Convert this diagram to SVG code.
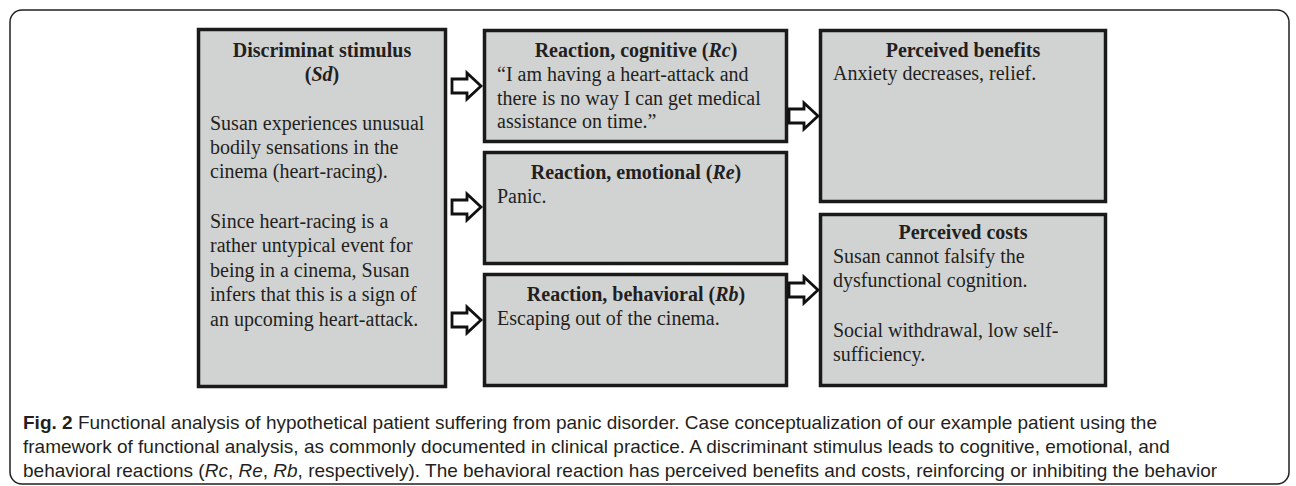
<svg xmlns="http://www.w3.org/2000/svg" width="1296" height="486" viewBox="0 0 1296 486">
<defs>
<style>
.frame{fill:#fff;stroke:#231f20;stroke-width:1.5}
.box{fill:#d1d3d3;stroke:#1a1a1a;stroke-width:3.5}
.t{font-family:"Liberation Serif","Times New Roman",serif;font-size:20px;fill:#231f20}
.b{font-weight:bold}
.c{text-anchor:middle}
.i{font-style:italic}
.cap{font-family:"Liberation Sans",Arial,sans-serif;font-size:19px;fill:#231f20}
.arrow{fill:#fff;stroke:#111;stroke-width:2.8;stroke-linejoin:miter}
</style>
<path id="arr" d="M0,-7 H15 V-13 L29,0 L15,13 V7 H0 Z"/>
</defs>
<rect class="frame" x="10" y="10" width="1279" height="474" rx="12" ry="12"/>

<g id="node-sd">
<rect class="box" x="198.5" y="29.5" width="247" height="357"/>
<text class="t b c" x="322" y="57">Discriminat stimulus</text>
<text class="t b c" x="322" y="81">(<tspan class="i">Sd</tspan>)</text>
<text class="t" x="210" y="130">Susan experiences unusual</text>
<text class="t" x="210" y="154">bodily sensations in the</text>
<text class="t" x="210" y="178">cinema (heart-racing).</text>
<text class="t" x="210" y="228">Since heart-racing is a</text>
<text class="t" x="210" y="252">rather untypical event for</text>
<text class="t" x="210" y="277">being in a cinema, Susan</text>
<text class="t" x="210" y="301">infers that this is a sign of</text>
<text class="t" x="210" y="326">an upcoming heart-attack.</text>
</g>

<g id="node-rc">
<rect class="box" x="484.5" y="30.5" width="302" height="111"/>
<text class="t b c" x="636" y="57">Reaction, cognitive (<tspan class="i">Rc</tspan>)</text>
<text class="t" x="497" y="81">“I am having a heart-attack and</text>
<text class="t" x="497" y="105">there is no way I can get medical</text>
<text class="t" x="497" y="128">assistance on time.”</text>
</g>

<g id="node-re">
<rect class="box" x="484.5" y="152.5" width="302" height="111"/>
<text class="t b c" x="636" y="179">Reaction, emotional (<tspan class="i">Re</tspan>)</text>
<text class="t" x="497" y="203">Panic.</text>
</g>

<g id="node-rb">
<rect class="box" x="484.5" y="274.5" width="302" height="111"/>
<text class="t b c" x="636" y="301">Reaction, behavioral (<tspan class="i">Rb</tspan>)</text>
<text class="t" x="497" y="325">Escaping out of the cinema.</text>
</g>

<g id="node-benefits">
<rect class="box" x="820.5" y="30.5" width="285" height="171"/>
<text class="t b c" x="963" y="57">Perceived benefits</text>
<text class="t" x="833" y="80">Anxiety decreases, relief.</text>
</g>

<g id="node-costs">
<rect class="box" x="820.5" y="214.5" width="285" height="171"/>
<text class="t b c" x="963" y="239">Perceived costs</text>
<text class="t" x="833" y="263">Susan cannot falsify the</text>
<text class="t" x="833" y="287">dysfunctional cognition.</text>
<text class="t" x="833" y="337">Social withdrawal, low self-</text>
<text class="t" x="833" y="361">sufficiency.</text>
</g>

<g id="connectors">
<use href="#arr" class="arrow" transform="translate(452,86)"/>
<use href="#arr" class="arrow" transform="translate(452,207)"/>
<use href="#arr" class="arrow" transform="translate(452,320)"/>
<use href="#arr" class="arrow" transform="translate(789,116)"/>
<use href="#arr" class="arrow" transform="translate(789,290)"/>
</g>

<g id="caption">
<text class="cap" x="23" y="429"><tspan font-weight="bold">Fig. 2</tspan> Functional analysis of hypothetical patient suffering from panic disorder. Case conceptualization of our example patient using the</text>
<text class="cap" x="23" y="453">framework of functional analysis, as commonly documented in clinical practice. A discriminant stimulus leads to cognitive, emotional, and</text>
<text class="cap" x="23" y="477">behavioral reactions (<tspan class="i">Rc</tspan>, <tspan class="i">Re</tspan>, <tspan class="i">Rb</tspan>, respectively). The behavioral reaction has perceived benefits and costs, reinforcing or inhibiting the behavior</text>
</g>
</svg>
